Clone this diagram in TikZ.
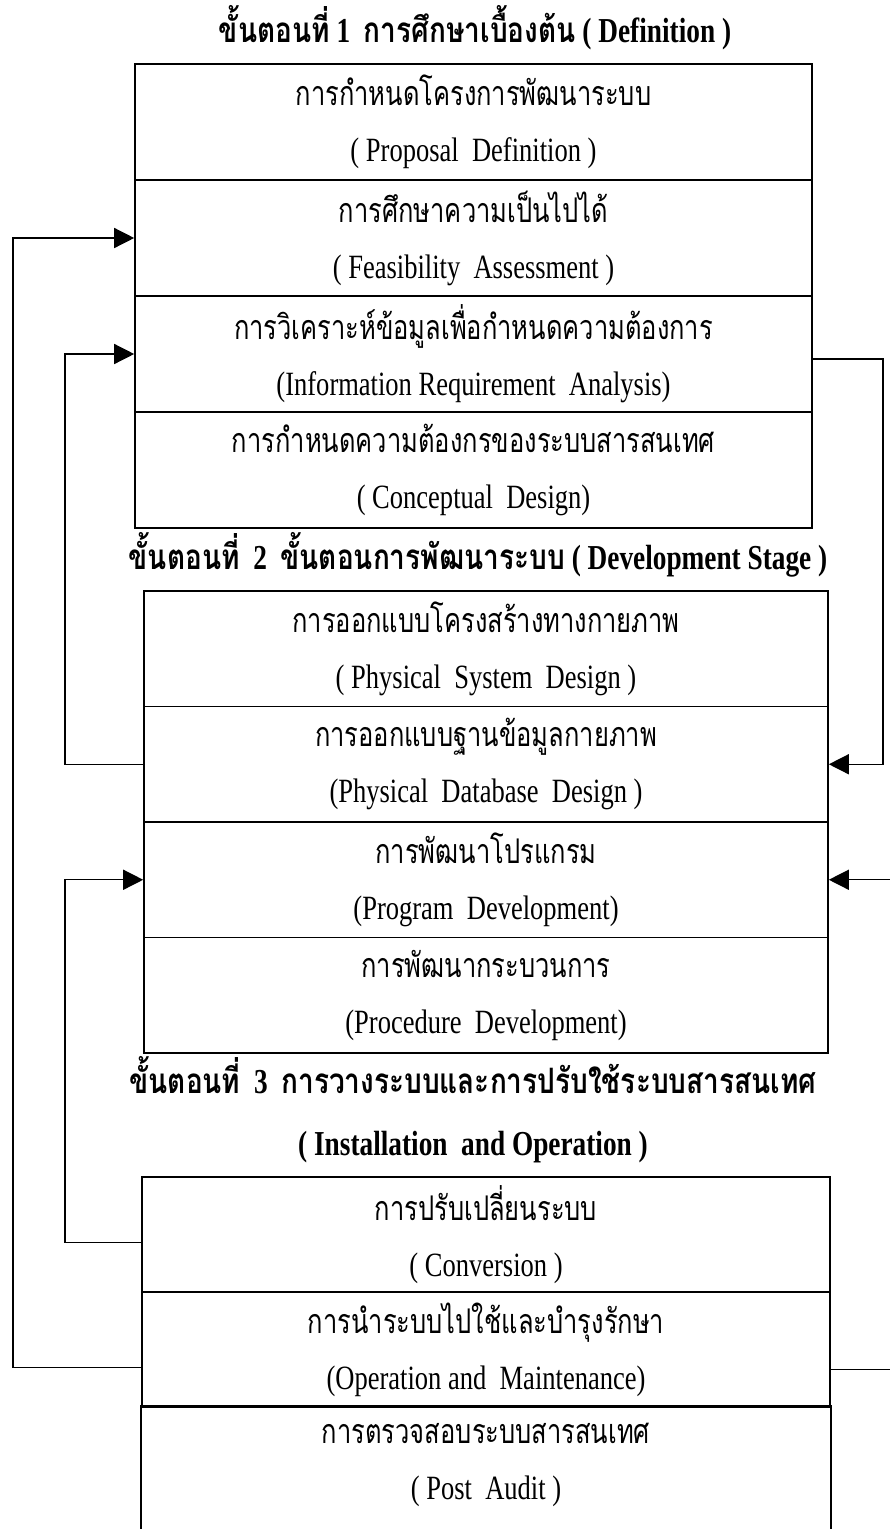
\documentclass[tikz,border=0pt]{standalone}
\usepackage{fontspec}
\setmainfont{Liberation Serif}[FakeStretch=0.78]
\newfontfamily\thai[Script=Thai,FakeStretch=0.75]{Loma}
\newfontfamily\thaitl[Script=Thai,FakeStretch=0.8]{Loma}
\usetikzlibrary{arrows.meta}
\begin{document}
\begin{tikzpicture}
[x=1pt,y=-1pt,
  rowbox/.style={shape=rectangle,draw,line width=1.6pt,inner sep=0pt,align=center,
    minimum height=115.5pt,font=\fontsize{34}{56}\selectfont},
  onebox/.style={rowbox,minimum width=677pt,minimum height=116pt},
  twobox/.style={rowbox,minimum width=684pt},
  threebox/.style={rowbox,minimum width=688pt,minimum height=115pt},
  steptitle/.style={align=center,font=\fontsize{35}{62}\selectfont\bfseries},
  flowline/.style={-{Triangle[length=20pt,width=20pt]},line width=1.4pt},
  plainline/.style={-,line width=1.4pt}]
\useasboundingbox (0,0) rectangle (890,1529);
%% step titles
\node (t1) at (475,28) [steptitle] {{\thaitl ขั้นตอนที่}\ 1\ \ {\thaitl การศึกษาเบื้องต้น} ( Definition )};
\node (t2) at (478,555) [steptitle] {{\thaitl ขั้นตอนที่}\ \ 2\ \ {\thaitl ขั้นตอนการพัฒนาระบบ} ( Development Stage )};
\node (t3) at (473,1110) [steptitle] {{\thaitl ขั้นตอนที่}\ \ 3\ \ {\thaitl การวางระบบและการปรับใช้ระบบสารสนเทศ}\\( Installation\ \ and Operation )};
%% rows of step 1
\foreach \nodename/\y/\thaitext/\engtext in {
  r1/122/การกำหนดโครงการพัฒนาระบบ/( Proposal\ \ Definition ),
  r2/238/การศึกษาความเป็นไปได้/( Feasibility\ \ Assessment ),
  r3/354/การวิเคราะห์ข้อมูลเพื่อกำหนดความต้องการ/(Information Requirement\ \ Analysis),
  r4/470/การกำหนดความต้องกรของระบบสารสนเทศ/( Conceptual\ \ Design)}
{
  \node (\nodename) at (473.5,\y) [onebox] {{\thai \thaitext}\\\engtext};
}
%% rows of step 2
\foreach \nodename/\y/\thaitext/\engtext in {
  r5/648.75/การออกแบบโครงสร้างทางกายภาพ/( Physical\ \ System\ \ Design ),
  r6/764.25/การออกแบบฐานข้อมูลกายภาพ/(Physical\ \ Database\ \ Design ),
  r7/879.75/การพัฒนาโปรแกรม/(Program\ \ Development),
  r8/995.25/การพัฒนากระบวนการ/(Procedure\ \ Development)}
{
  \node (\nodename) at (486,\y) [twobox] {{\thai \thaitext}\\\engtext};
}
%% rows of step 3
\foreach \nodename/\y/\thaitext/\engtext in {
  r9/1234.5/การปรับเปลี่ยนระบบ/( Conversion ),
  r10/1349.5/การนำระบบไปใช้และบำรุงรักษา/(Operation and\ \ Maintenance)}
{
  \node (\nodename) at (486,\y) [threebox] {{\thai \thaitext}\\\engtext};
}
\node (r11) at (486,1464.5) [threebox,draw=none] {{\thai การตรวจสอบระบบสารสนเทศ}\\( Post\ \ Audit )};
\draw[line width=1.6pt] ([yshift=-20pt]r11.south west) -- (r11.north west)
  -- (r11.north east) -- ([yshift=-20pt]r11.south east);
%% connectors
\coordinate (outerleft) at (13,0);
\coordinate (innerleft) at (65,0);
\coordinate (outerright) at (883,0);
\coordinate (offright) at (900,0);
\draw[flowline] ([yshift=-18pt]r10.west) -- ([yshift=-18pt]r10.west -| outerleft) |- (r2.west);
\draw[flowline] (r6.west) -- (r6.west -| innerleft) |- (r3.west);
\draw[flowline] ([yshift=-5pt]r3.east) -- ([yshift=-5pt]r3.east -| outerright) |- (r6.east);
\draw[flowline] ([yshift=-8pt]r9.west) -- ([yshift=-8pt]r9.west -| innerleft) |- (r7.west);
\draw[flowline] ([yshift=-20pt]r10.east) -- ([yshift=-20pt]r10.east -| offright) |- (r7.east);
\end{tikzpicture}
\end{document}
